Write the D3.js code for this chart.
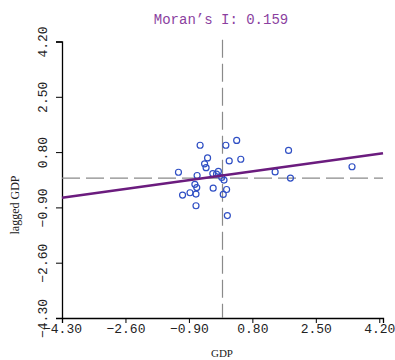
<!DOCTYPE html>
<html><head><meta charset="utf-8">
<script src="https://cdn.jsdelivr.net/npm/d3@7"></script>
<style>body{margin:0;background:#fff}</style></head>
<body><svg id="c" width="395" height="360"></svg>
<script>
const gdp =    [-0.60,0.09,0.38,-0.40,-0.48,-0.44,0.18,0.49,-1.18,-0.68,-0.26,-0.11,-0.02,0.04,-0.74,-0.69,-0.25,0.11,-1.07,-0.87,-0.71,0.02,-0.71,0.13,1.77,1.41,3.47,1.82,-0.16];
const lagGdp = [1.01,1.01,1.16,0.62,0.44,0.32,0.53,0.58,0.18,0.08,0.14,0.21,0.02,-0.06,-0.19,-0.29,-0.31,-0.35,-0.52,-0.45,-0.49,-0.50,-0.85,-1.15,0.85,0.19,0.35,0.00,0.12];
const tickVals = [-4.30,-2.60,-0.90,0.80,2.50,4.20];
const moranI = 0.159;
const intercept = 0.08;

const svg = d3.select("#c");
const x = d3.scaleLinear().domain([-4.3,4.3]).range([62,383]);
const y = d3.scaleLinear().domain([-4.3,4.2]).range([318,41.5]);
const mono = "'Liberation Mono','DejaVu Sans Mono',monospace";

// axes
const xa = svg.append("g").attr("transform","translate(0,318)")
  .call(d3.axisBottom(x).tickValues(tickVals).tickSize(5).tickFormat(d3.format(".2f")));
xa.select(".domain").attr("stroke","#000").attr("stroke-width",1.3);
xa.selectAll("text").attr("font-family",mono).attr("font-size",13).attr("fill","#222").attr("dy","0.55em");
const ya = svg.append("g").attr("transform","translate(62,0)")
  .call(d3.axisLeft(y).tickValues(tickVals).tickSize(6).tickFormat(d3.format(".2f")));
ya.select(".domain").attr("stroke","#000").attr("stroke-width",1.3);
ya.selectAll("text").attr("font-family",mono).attr("font-size",13).attr("fill","#222")
  .attr("text-anchor","middle").attr("x",0).attr("dy",0)
  .attr("transform","translate(-15,0) rotate(-90)");

// reference lines
svg.append("line").attr("x1",x(0)).attr("x2",x(0)).attr("y1",y(4.25)).attr("y2",y(-4.3))
  .attr("stroke","#8a8a8a").attr("stroke-width",1.2).attr("stroke-dasharray","18,6");
svg.append("line").attr("x1",x(-4.3)).attr("x2",x(4.3)).attr("y1",y(0)).attr("y2",y(0))
  .attr("stroke","#8a8a8a").attr("stroke-width",1.2).attr("stroke-dasharray","18,6");

// points
svg.append("g").selectAll("circle").data(gdp).join("circle")
  .attr("cx",(d)=>x(d)).attr("cy",(d,i)=>y(lagGdp[i])).attr("r",3)
  .attr("fill","none").attr("stroke","#2f4fc4").attr("stroke-width",1.2);

// regression line
svg.append("line").attr("x1",x(-4.3)).attr("x2",x(4.3))
  .attr("y1",y(intercept+moranI*-4.3)).attr("y2",y(intercept+moranI*4.3))
  .attr("stroke","#6b1c7e").attr("stroke-width",2.6);

// titles
svg.append("text").attr("x",221).attr("y",24).attr("text-anchor","middle")
  .attr("font-family",mono).attr("font-size",14).attr("fill","#8b3fa0").text("Moran’s I: 0.159");
svg.append("text").attr("x",222).attr("y",357).attr("text-anchor","middle")
  .attr("font-family","'Liberation Serif',serif").attr("font-size",11).attr("fill","#222").text("GDP");
svg.append("text").attr("transform","translate(19,205) rotate(-90)").attr("text-anchor","middle")
  .attr("font-family","'Liberation Serif',serif").attr("font-size",12).attr("fill","#222").text("lagged GDP");
</script></body></html>
